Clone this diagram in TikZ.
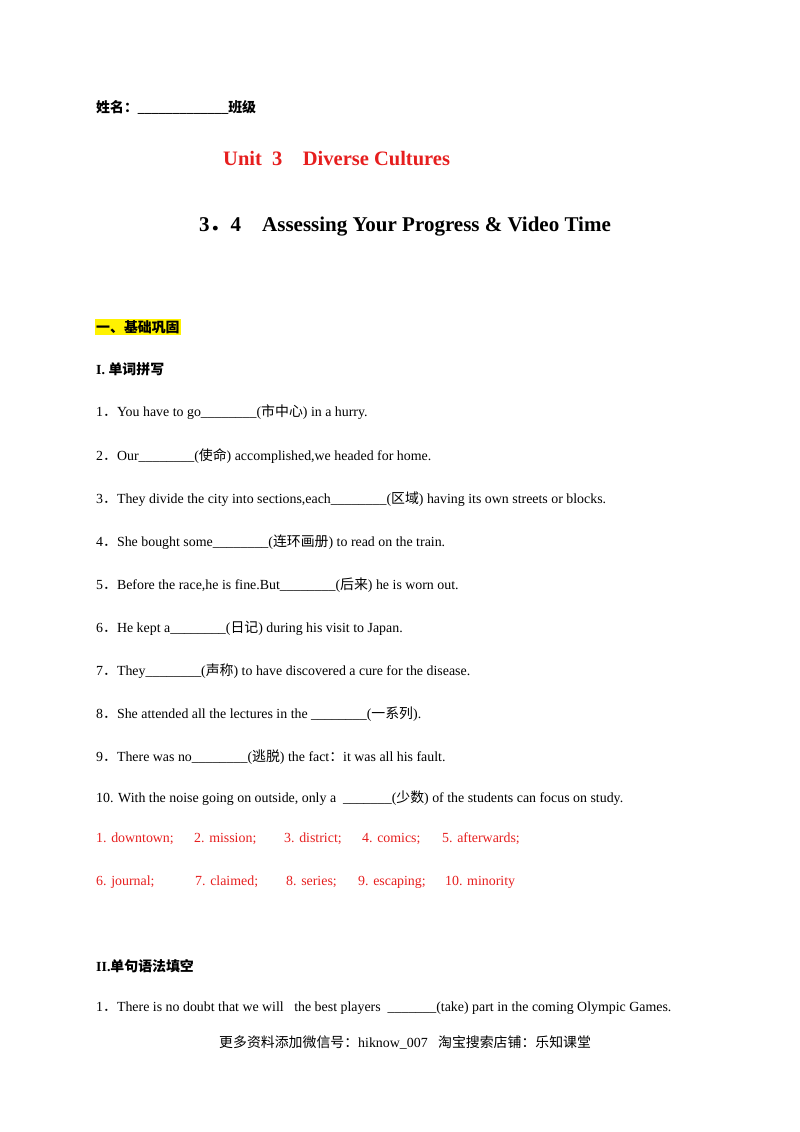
\documentclass[tikz,border=0pt]{standalone}
\usepackage{fontspec}
\setmainfont{Liberation Serif}
\newfontfamily\cjk{Noto Sans CJK SC}
\newcommand{\zh}[1]{{\cjk #1}}
\newcommand{\bl}{\_\_\_\_\_\_\_\_}
\definecolor{ansred}{RGB}{230,30,30}
\begin{document}
\begin{tikzpicture}[x=1pt,y=-1pt,
  txt/.style={anchor=west,inner sep=0pt,font=\fontsize{13.9}{16}\selectfont},
  ans/.style={txt,text=ansred},
  head/.style={anchor=west,inner sep=0pt,font=\fontsize{13.9}{16}\selectfont\bfseries}]
\useasboundingbox (0,0) rectangle (800,1132);
\node[head] (name) at (96,107) {\zh{\bfseries 姓名：}\_\_\_\_\_\_\_\_\_\_\_\_\_\zh{\bfseries 班级}};
\node[anchor=west,inner sep=0pt,font=\fontsize{20.5}{23}\selectfont\bfseries,text=ansred] (t1) at (223,159) {Unit\ \ 3\quad Diverse Cultures};
\node[anchor=west,inner sep=0pt,font=\fontsize{21}{24}\selectfont\bfseries] (t2) at (199,227) {3\zh{．}4\quad Assessing Your Progress \& Video Time};
\node[head,fill=yellow,inner sep=1pt] (s1) at (95,327) {\zh{\bfseries 一、基础巩固}};
\node[head] (s2) at (96,369) {I.\ \zh{\bfseries 单词拼写}};
\node[txt] (q1) at (96,412) {1\zh{．}You have to go\bl(\zh{市中心}) in a hurry.};
\node[txt] (q2) at (96,456) {2\zh{．}Our\bl(\zh{使命}) accomplished,we headed for home.};
\node[txt] (q3) at (96,499) {3\zh{．}They divide the city into sections,each\bl(\zh{区域}) having its own streets or blocks.};
\node[txt] (q4) at (96,542) {4\zh{．}She bought some\bl(\zh{连环画册}) to read on the train.};
\node[txt] (q5) at (96,585) {5\zh{．}Before the race,he is fine.But\bl(\zh{后来}) he is worn out.};
\node[txt] (q6) at (96,628) {6\zh{．}He kept a\bl(\zh{日记}) during his visit to Japan.};
\node[txt] (q7) at (96,671) {7\zh{．}They\bl(\zh{声称}) to have discovered a cure for the disease.};
\node[txt] (q8) at (96,714) {8\zh{．}She attended all the lectures in the \bl(\zh{一系列}).};
\node[txt] (q9) at (96,757) {9\zh{．}There was no\bl(\zh{逃脱}) the fact\zh{：}it was all his fault.};
\node[txt] (q10) at (96,798) {10. With the noise going on outside, only a \ \_\_\_\_\_\_\_(\zh{少数}) of the students can focus on study.};
\node[ans] (a1) at (96,839) {1. downtown;};
\node[ans] (a2) at (194,839) {2. mission;};
\node[ans] (a3) at (284,839) {3. district;};
\node[ans] (a4) at (362,839) {4. comics;};
\node[ans] (a5) at (442,839) {5. afterwards;};
\node[ans] (a6) at (96,882) {6. journal;};
\node[ans] (a7) at (195,882) {7. claimed;};
\node[ans] (a8) at (286,882) {8. series;};
\node[ans] (a9) at (358,882) {9. escaping;};
\node[ans] (a10) at (445,882) {10. minority};
\node[head] (s3) at (96,966) {II.\zh{\bfseries 单句语法填空}};
\node[txt] (r1) at (96,1008) {1\zh{．}There is no doubt that we will \ \ the best players \ \_\_\_\_\_\_\_(take) part in the coming Olympic Games.};
\node[txt] (foot) at (219,1042) {\zh{更多资料添加微信号：}hiknow\_007\ \ \ \zh{淘宝搜索店铺：乐知课堂}};
\end{tikzpicture}
\end{document}
